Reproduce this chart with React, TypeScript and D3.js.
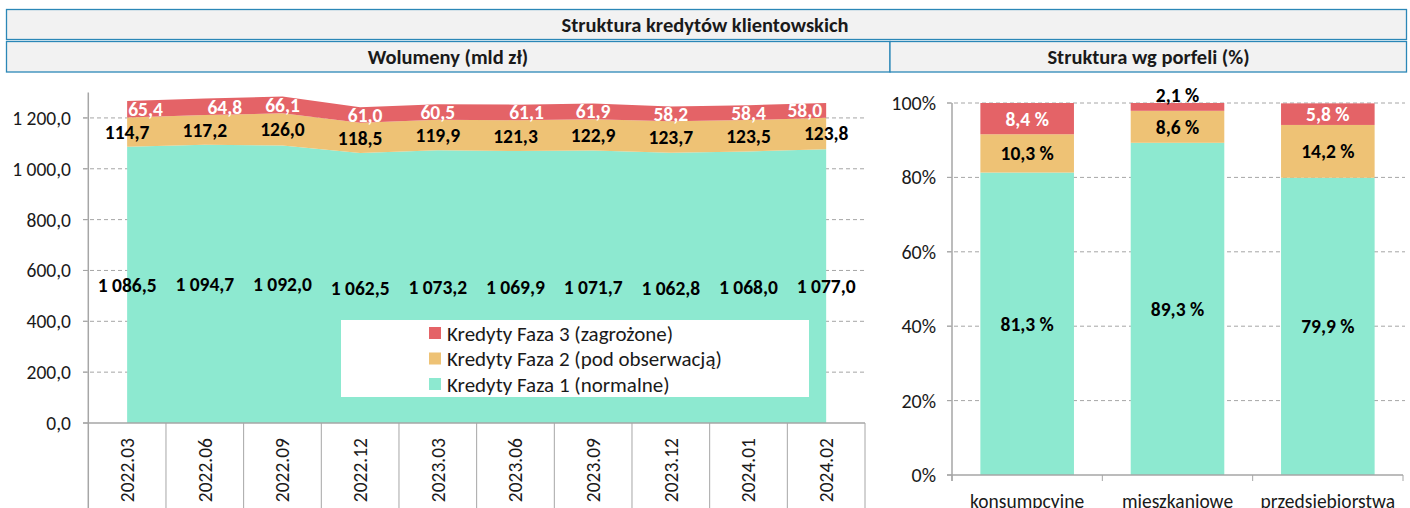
import React from "react";
import * as d3 from "d3";

const periods = ["2022.03","2022.06","2022.09","2022.12","2023.03","2023.06","2023.09","2023.12","2024.01","2024.02"];
const faza1 = [1086.5,1094.7,1092.0,1062.5,1073.2,1069.9,1071.7,1062.8,1068.0,1077.0];
const faza2 = [114.7,117.2,126.0,118.5,119.9,121.3,122.9,123.7,123.5,123.8];
const faza3 = [65.4,64.8,66.1,61.0,60.5,61.1,61.9,58.2,58.4,58.0];
const yTicksLeft = [0,200,400,600,800,1000,1200];

const portfolios = ["konsumpcyjne","mieszkaniowe","przedsiębiorstwa"];
const pf1 = [81.3,89.3,79.9];
const pf2 = [10.3,8.6,14.2];
const pf3 = [8.4,2.1,5.8];
const yTicksRight = [0,20,40,60,80,100];

const legendItems = ["Kredyty Faza 3 (zagrożone)","Kredyty Faza 2 (pod obserwacją)","Kredyty Faza 1 (normalne)"];

const C1 = "#8DE9D0", C2 = "#EEC275", C3 = "#E46367";
const FONT = "Carlito, Calibri, Lato, sans-serif";
const GRID = "#A6A6A6";
const TXT = "#1a1a1a";
const LBL = 19.5;
const AX = 19.5;

const fmtNum = (v: number) => {
  const s = v.toFixed(1).replace(".", ",");
  const [i, d] = s.split(",");
  return i.replace(/\B(?=(\d{3})+(?!\d))/g, " ") + "," + d;
};
const fmtPct = (v: number) => v.toFixed(1).replace(".", ",") + " %";

export default function App() {
  // Left chart
  const xb = d3.scaleBand<string>().domain(periods).range([88.3, 865]).padding(0);
  const xc = (p: string) => (xb(p) as number) + xb.bandwidth() / 2;
  const y = d3.scaleLinear().domain([0, 1300]).range([423, 92.5]);
  const rows = periods.map((p, i) => ({ p, f1: faza1[i], f2: faza2[i], f3: faza3[i] }));
  const stack = d3.stack<any>().keys(["f1", "f2", "f3"])(rows);
  const colors = [C1, C2, C3];
  const area = d3.area<any>().x((d) => xc(d.data.p)).y0((d) => y(d[0])).y1((d) => y(d[1])).curve(d3.curveLinear);
  const redDx = [1, 20, 0, 5, 0, 11, 0, 0, 0, -4];

  // Right chart
  const xr = d3.scaleBand<string>().domain(portfolios).range([952, 1403]).paddingInner(0.3775).paddingOuter(0.3775 / 2);
  const yr = d3.scaleLinear().domain([0, 100]).range([475, 103]);
  const prow = portfolios.map((p, i) => ({ p, a: pf1[i], b: pf2[i], c: pf3[i] }));
  const pstack = d3.stack<any>().keys(["a", "b", "c"])(prow);
  const bandEdges = portfolios.map((p) => xr(p) as number - (xr.step() - xr.bandwidth()) / 2).concat([1403]);

  return (
    <svg width={1410} height={508} style={{ position: "absolute", left: 0, top: 0, background: "#fff" }} fontFamily={FONT}>
      {/* headers */}
      <rect x={6.5} y={9.5} width={1400} height={30} fill="#F2F2F2" stroke="#2B87B7" strokeWidth={1.3} />
      <rect x={6.5} y={41.5} width={883.5} height={30.5} fill="#F2F2F2" stroke="#2B87B7" strokeWidth={1.3} />
      <rect x={890} y={41.5} width={516.5} height={30.5} fill="#F2F2F2" stroke="#2B87B7" strokeWidth={1.3} />
      <text x={705} y={25} textAnchor="middle" dominantBaseline="central" fontWeight="bold" fontSize={20.5} fill={TXT}>Struktura kredytów klientowskich</text>
      <text x={448} y={57} textAnchor="middle" dominantBaseline="central" fontWeight="bold" fontSize={20.5} fill={TXT}>Wolumeny (mld zł)</text>
      <text x={1148.5} y={57} textAnchor="middle" dominantBaseline="central" fontWeight="bold" fontSize={20.5} fill={TXT}>Struktura wg porfeli (%)</text>

      {/* left grid */}
      {yTicksLeft.map((t) => (
        <g key={t}>
          {t > 0 && <line x1={83} x2={865} y1={y(t)} y2={y(t)} stroke={GRID} strokeDasharray="4,3" />}
          <line x1={83} x2={88.3} y1={y(t)} y2={y(t)} stroke={GRID} />
          <text x={71} y={y(t)} textAnchor="end" dominantBaseline="central" fontSize={AX} fill={TXT}>{fmtNum(t)}</text>
        </g>
      ))}
      {stack.map((s, k) => (
        <path key={k} d={area(s) as string} fill={colors[k]} />
      ))}
      <line x1={88.3} x2={88.3} y1={92.5} y2={508} stroke={GRID} strokeWidth={1.5} />
      <line x1={83} x2={865} y1={423} y2={423} stroke={GRID} strokeWidth={1.5} />
      {periods.map((p) => (
        <line key={p} x1={(xb(p) as number) + xb.bandwidth()} x2={(xb(p) as number) + xb.bandwidth()} y1={423} y2={508} stroke={GRID} />
      ))}
      {periods.map((p) => (
        <text key={p} transform={`translate(${xc(p)},438) rotate(-90)`} textAnchor="end" dominantBaseline="central" fontSize={AX} fill={TXT}>{p}</text>
      ))}
      {/* left labels */}
      {rows.map((r, i) => (
        <g key={r.p} fontWeight="bold" fontSize={LBL}>
          <text x={xc(r.p)} y={y(r.f1 / 2)} textAnchor="middle" dominantBaseline="central" fill="#000">{fmtNum(r.f1)}</text>
          <text x={xc(r.p)} y={y(r.f1 + r.f2 / 2)} textAnchor="middle" dominantBaseline="central" fill="#000">{fmtNum(r.f2)}</text>
          <text x={xc(r.p) + redDx[i]} y={y(r.f1 + r.f2 + r.f3 / 2)} textAnchor={i === 0 ? "start" : i === periods.length - 1 ? "end" : "middle"} dominantBaseline="central" fill="#fff">{fmtNum(r.f3)}</text>
        </g>
      ))}
      {/* legend */}
      <rect x={341} y={320} width={468} height={77} fill="#fff" />
      {legendItems.map((t, i) => (
        <g key={t}>
          <rect x={429} y={327 + i * 25.5} width={12} height={12} fill={[C3, C2, C1][i]} />
          <text x={447} y={333.5 + i * 25.5} dominantBaseline="central" fontSize={21} fill={TXT}>{t}</text>
        </g>
      ))}

      {/* right chart */}
      {yTicksRight.map((t) => (
        <g key={t}>
          {t > 0 && <line x1={947} x2={1405} y1={yr(t)} y2={yr(t)} stroke={GRID} strokeDasharray="4,3" />}
          <line x1={947} x2={952} y1={yr(t)} y2={yr(t)} stroke={GRID} />
          <text x={936} y={yr(t)} textAnchor="end" dominantBaseline="central" fontSize={20} fill={TXT}>{t + "%"}</text>
        </g>
      ))}
      {pstack.map((s, k) => (
        <g key={k}>
          {s.map((d: any) => (
            <rect key={d.data.p} x={xr(d.data.p)} width={xr.bandwidth()} y={yr(d[1])} height={yr(d[0]) - yr(d[1])} fill={colors[k]} />
          ))}
        </g>
      ))}
      <line x1={952} x2={952} y1={103} y2={481} stroke={GRID} strokeWidth={1.5} />
      <line x1={947} x2={1403} y1={475} y2={475} stroke={GRID} strokeWidth={1.5} />
      {bandEdges.map((e, i) => (
        <line key={i} x1={e} x2={e} y1={475} y2={481} stroke={GRID} />
      ))}
      {portfolios.map((p) => (
        <text key={p} x={(xr(p) as number) + xr.bandwidth() / 2} y={507.5} textAnchor="middle" fontSize={AX} fill={TXT}>{p}</text>
      ))}
      {pstack.map((s, k) => (
        <g key={k} fontWeight="bold" fontSize={LBL}>
          {s.map((d: any) => {
            const v = d[1] - d[0];
            const small = v < 3;
            const cx = (xr(d.data.p) as number) + xr.bandwidth() / 2;
            return (
              <text key={d.data.p} x={cx} y={small ? yr(d[1]) - 8 : yr((d[0] + d[1]) / 2)} textAnchor="middle" dominantBaseline="central" fill={k === 2 && !small ? "#fff" : "#000"}>{fmtPct(v)}</text>
            );
          })}
        </g>
      ))}
    </svg>
  );
}
